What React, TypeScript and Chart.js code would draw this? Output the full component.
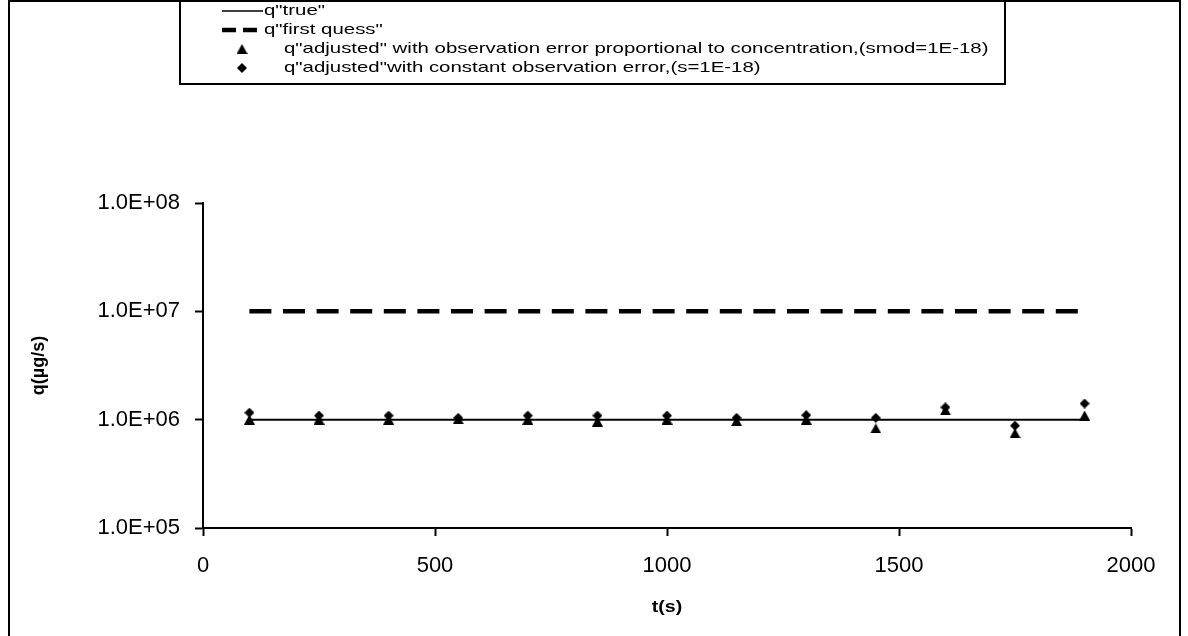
import React, { useEffect, useRef } from 'react';
import { Chart, registerables } from 'chart.js';
Chart.register(...registerables);

const times = [100, 250, 400, 550, 700, 850, 1000, 1150, 1300, 1450, 1600, 1750, 1900];
const qTrue = [1e6, 1e6, 1e6, 1e6, 1e6, 1e6, 1e6, 1e6, 1e6, 1e6, 1e6, 1e6, 1e6];
const qFirstGuess = [1e7, 1e7, 1e7, 1e7, 1e7, 1e7, 1e7, 1e7, 1e7, 1e7, 1e7, 1e7, 1e7];
const qAdjProp = [1.0e6, 1.0e6, 1.0e6, 1.01e6, 1.0e6, 0.96e6, 1.0e6, 0.97e6, 1.0e6, 0.83e6, 1.22e6, 0.75e6, 1.09e6];
const qAdjConst = [1.16e6, 1.09e6, 1.09e6, 1.04e6, 1.09e6, 1.09e6, 1.09e6, 1.04e6, 1.1e6, 1.04e6, 1.3e6, 0.88e6, 1.41e6];

const xTickValues = [0, 500, 1000, 1500, 2000];
const xTickLabels = ['0', '500', '1000', '1500', '2000'];
const yTickValues = [1e5, 1e6, 1e7, 1e8];
const yTickLabels = ['1.0E+05', '1.0E+06', '1.0E+07', '1.0E+08'];
const xTitle = 't(s)';
const yTitle = 'q(µg/s)';
const seriesLabels = [
  'q"true"',
  'q"first quess"',
  'q"adjusted" with observation error proportional to concentration,(smod=1E-18)',
  'q"adjusted"with constant observation error,(s=1E-18)',
];

const FONT = 'Arial, "Liberation Sans", sans-serif';

function makeTriangle() {
  const c = document.createElement('canvas');
  c.width = 11; c.height = 10;
  const g = c.getContext('2d')!;
  g.fillStyle = '#000';
  g.beginPath(); g.moveTo(5.5, 0); g.lineTo(11, 10); g.lineTo(0, 10); g.closePath(); g.fill();
  return c;
}
function makeDiamond() {
  const c = document.createElement('canvas');
  c.width = 10; c.height = 10;
  const g = c.getContext('2d')!;
  g.fillStyle = '#000';
  g.beginPath(); g.moveTo(5, 0); g.lineTo(10, 5); g.lineTo(5, 10); g.lineTo(0, 5); g.closePath(); g.fill();
  return c;
}

function sText(ctx: CanvasRenderingContext2D, text: string, x: number, y: number, font: string, align: string, sx: number) {
  ctx.save();
  ctx.font = font;
  ctx.textBaseline = 'middle';
  ctx.fillStyle = '#000';
  const w = ctx.measureText(text).width * sx;
  const left = align === 'center' ? x - w / 2 : align === 'right' ? x - w : x;
  ctx.translate(left, y);
  ctx.scale(sx, 1);
  ctx.textAlign = 'left';
  ctx.fillText(text, 0, 0);
  ctx.restore();
}

export default function App() {
  const ref = useRef<HTMLCanvasElement>(null);
  useEffect(() => {
    const tri = makeTriangle();
    const dia = makeDiamond();
    const decor = {
      id: 'decor',
      afterDraw(chart: any) {
        const ctx: CanvasRenderingContext2D = chart.ctx;
        ctx.save();
        ctx.strokeStyle = '#000';
        ctx.lineWidth = 2;
        ctx.strokeRect(9, 1, 1171, 660);
        ctx.strokeRect(180, 1, 825, 83);
        const rows = [11, 30, 49, 68];
        ctx.lineWidth = 1.5;
        ctx.setLineDash([]);
        ctx.beginPath(); ctx.moveTo(222, rows[0]); ctx.lineTo(263, rows[0]); ctx.stroke();
        ctx.lineWidth = 4.5;
        ctx.setLineDash([14, 7]);
        ctx.beginPath(); ctx.moveTo(222, rows[1]); ctx.lineTo(263, rows[1]); ctx.stroke();
        ctx.setLineDash([]);
        ctx.drawImage(tri, 242 - 5.5, rows[2] - 5);
        ctx.drawImage(dia, 242 - 5, rows[3] - 5);
        const lf = '15px ' + FONT;
        const lsx = 1.36;
        sText(ctx, seriesLabels[0], 264, rows[0], lf, 'left', lsx);
        sText(ctx, seriesLabels[1], 264, rows[1], lf, 'left', lsx);
        sText(ctx, seriesLabels[2], 284, rows[2], lf, 'left', lsx);
        sText(ctx, seriesLabels[3], 284, rows[3], lf, 'left', lsx);
        const xs = chart.scales.x;
        const ys = chart.scales.y;
        const tf = '22px ' + FONT;
        xTickValues.forEach((v, i) => {
          sText(ctx, xTickLabels[i], xs.getPixelForValue(v), 566, tf, 'center', 1);
        });
        yTickValues.forEach((v, i) => {
          sText(ctx, yTickLabels[i], 180, ys.getPixelForValue(v), tf, 'right', 1);
        });
        sText(ctx, xTitle, (chart.chartArea.left + chart.chartArea.right) / 2, 607, 'bold 17px ' + FONT, 'center', 1.15);
        ctx.save();
        ctx.translate(39, (chart.chartArea.top + chart.chartArea.bottom) / 2);
        ctx.rotate(-Math.PI / 2);
        ctx.font = 'bold 18px ' + FONT;
        ctx.textAlign = 'center';
        ctx.textBaseline = 'middle';
        ctx.fillStyle = '#000';
        ctx.fillText(yTitle, 0, 0);
        ctx.restore();
        ctx.restore();
      },
    };
    const mk = (arr: number[]) => times.map((t, i) => ({ x: t, y: arr[i] }));
    const axisCommon = {
      ticks: { display: false },
      grid: { drawOnChartArea: false, drawTicks: true, tickLength: 8, tickColor: '#000', tickWidth: 2 },
      border: { display: true, color: '#000', width: 2 },
    };
    const chart = new Chart(ref.current!, {
      type: 'scatter',
      data: {
        datasets: [
          { label: seriesLabels[0], data: mk(qTrue), showLine: true, borderColor: '#000', borderWidth: 2, pointRadius: 0, order: 3 },
          { label: seriesLabels[1], data: mk(qFirstGuess), showLine: true, borderColor: '#000', borderWidth: 4.5, borderDash: [22, 11.6], pointRadius: 0, order: 2 },
          { label: seriesLabels[2], data: mk(qAdjProp), showLine: false, pointStyle: tri as any, pointRadius: 5, backgroundColor: '#000', borderColor: '#000', order: 1 },
          { label: seriesLabels[3], data: mk(qAdjConst), showLine: false, pointStyle: dia as any, pointRadius: 5, backgroundColor: '#000', borderColor: '#000', order: 0 },
        ],
      },
      options: {
        animation: false,
        responsive: false,
        devicePixelRatio: 1,
        layout: { padding: { top: 203, right: 57, bottom: 0, left: 0 } },
        plugins: { legend: { display: false }, tooltip: { enabled: false } },
        scales: {
          x: {
            type: 'linear', min: 0, max: 2000,
            afterBuildTicks: (s: any) => { s.ticks = xTickValues.map((v) => ({ value: v })); },
            afterFit: (s: any) => { s.height = 108; },
            ...axisCommon,
          },
          y: {
            type: 'logarithmic', min: 1e5, max: 1e8,
            afterBuildTicks: (s: any) => { s.ticks = yTickValues.map((v) => ({ value: v })); },
            afterFit: (s: any) => { s.width = 203; },
            ...axisCommon,
          },
        },
      } as any,
      plugins: [decor],
    });
    return () => chart.destroy();
  }, []);
  return (
    <div style={{ position: 'absolute', left: 0, top: 0, width: 1188, height: 636, overflow: 'hidden', background: '#fff' }}>
      <canvas ref={ref} width={1188} height={636} style={{ display: 'block', width: 1188, height: 636 }} />
    </div>
  );
}
